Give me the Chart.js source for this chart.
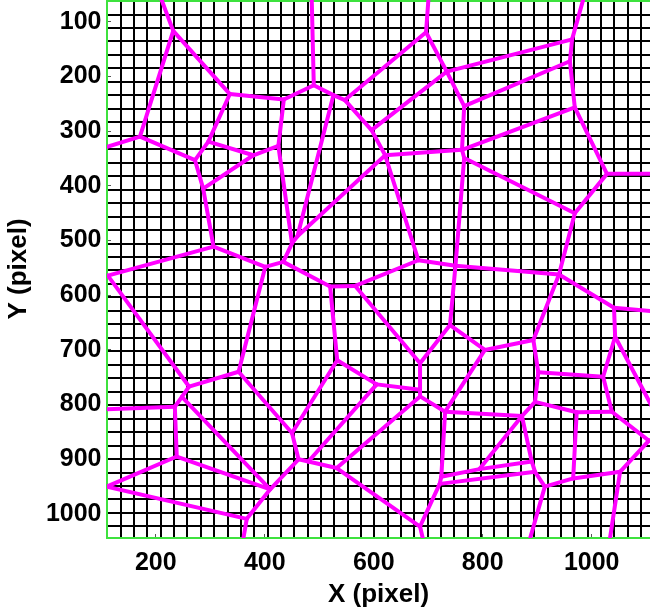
<!DOCTYPE html>
<html>
<head>
<meta charset="utf-8">
<script src="https://cdn.jsdelivr.net/npm/chart.js@4.4.0/dist/chart.umd.min.js"></script>
<style>
  html, body { margin: 0; padding: 0; background: #fff; }
</style>
</head>
<body>
<canvas id="myChart" width="650" height="613"></canvas>
<script>
'use strict';

// axis ticks and ranges (pixel units of the original image)
const xTickValues = [200, 400, 600, 800, 1000];
const yTickValues = [100, 200, 300, 400, 500, 600, 700, 800, 900, 1000];
const xRange = [110.5, 1107];
const yRange = [60, 1044];

// the square pixel grid behind the cells
const gridXStart = 135.8;
const gridXStep = 24.48;
const gridYStart = 61.9;
const gridYStep = 24.64;

// cell vertices (x, y)
const nodeX = [
  207, 232, 171, 100, 336, 435, 490, 486, 526, 547,      // 0-9
  696, 701, 734, 766, 596, 964, 987, 960, 969, 1028,     // 10-19
  1115, 969, 621, 762, 766, 460, 450, 425, 296.5, 379,   // 20-29
  272, 287, 306, 112, 401, 434, 520, 566, 682, 750,      // 30-39
  940, 1041, 1115, 1043, 1115, 1021, 902, 893, 896, 872, // 40-49
  972.5, 1037, 1105, 1115, 804, 740, 685, 685, 685, 605.5, // 50-59
  533, 450, 462, 480, 532, 731, 724, 721, 685, 692.5,    // 60-69
  794, 890, 896, 914, 884, 966, 1052, 1032, 110, 238.5,  // 70-79
  367, 359, 410, 235, 100, 261, 248, 352                 // 80-87
];
const nodeY = [
  50, 116.5, 310, 332, 232, 242, 216, 50, 234, 243,
  119, 50, 191, 254, 298, 132, 50, 172, 256.5, 378,
  378, 450, 344, 334, 349, 492, 505, 327, 319, 344,
  353, 405, 511, 564, 548, 539, 584, 583, 536, 546,
  562, 623, 629.5, 676, 812, 749, 741, 682, 795, 821,
  814, 813, 866, 863, 700, 654.5, 724.5, 773, 785, 763,
  719, 852, 900, 904, 916, 813, 932, 945, 1023, 1055,
  918, 904, 923, 950, 1055, 935, 923, 1055, 950, 895,
  1009, 1055, 955, 804, 809, 767, 786, 740
];

// cell edges as pairs of vertex indices
const edges = [
  [0, 1], [1, 2], [2, 3], [1, 4], [4, 5], [5, 6], [6, 7], [6, 8], [8, 9], [9, 10],
  [9, 14], [10, 11], [10, 12], [12, 13], [12, 15], [15, 16], [15, 17], [17, 18], [13, 17], [14, 12],
  [14, 22], [22, 23], [13, 23], [23, 24], [23, 18], [24, 21], [18, 19], [19, 20], [19, 21], [21, 40],
  [24, 39], [5, 27], [27, 26], [8, 25], [22, 25], [25, 26], [26, 35], [4, 28], [28, 30], [2, 30],
  [28, 29], [29, 27], [29, 31], [30, 31], [31, 32], [32, 33], [32, 34], [34, 35], [35, 36], [34, 87],
  [22, 38], [38, 37], [37, 36], [36, 60], [37, 56], [38, 39], [39, 40], [39, 55], [40, 41], [41, 42],
  [41, 43], [43, 44], [43, 45], [45, 51], [45, 46], [40, 47], [47, 46], [47, 54], [46, 48], [48, 49],
  [48, 50], [50, 51], [51, 52], [52, 53], [55, 56], [55, 54], [54, 65], [56, 57], [57, 58], [57, 59],
  [58, 65], [58, 64], [59, 60], [59, 63], [60, 61], [61, 87], [61, 62], [62, 63], [63, 64], [62, 82],
  [64, 68], [65, 49], [65, 66], [66, 67], [67, 68], [68, 69], [66, 70], [70, 71], [49, 70], [49, 71],
  [71, 72], [67, 72], [72, 73], [73, 74], [73, 75], [75, 50], [75, 76], [76, 77], [76, 52], [33, 85],
  [85, 87], [85, 86], [86, 83], [86, 82], [83, 84], [83, 79], [79, 78], [79, 82], [78, 80], [80, 82],
  [80, 81]
];

const labelFont = { family: '"Liberation Sans", Arial, sans-serif', size: 25, weight: 'bold' };
const titleFont = { family: '"Liberation Sans", Arial, sans-serif', size: 26, weight: 'bold' };
const green = '#3ee23e';

function gridValues(start, step, max) {
  const out = [];
  for (let v = start; v <= max; v += step) {
    out.push({ value: v });
  }
  return out;
}

const datasets = edges.map(function (e) {
  return {
    data: [{ x: nodeX[e[0]], y: nodeY[e[0]] }, { x: nodeX[e[1]], y: nodeY[e[1]] }],
    showLine: true,
    borderColor: '#ff00ff',
    borderWidth: 4,
    borderCapStyle: 'round',
    borderJoinStyle: 'round',
    pointRadius: 0,
    pointHoverRadius: 0,
    tension: 0,
    clip: 0
  };
});

const ctx = document.getElementById('myChart').getContext('2d');
new Chart(ctx, {
  type: 'scatter',
  data: { datasets: datasets },
  options: {
    responsive: false,
    animation: false,
    events: [],
    layout: { padding: 0 },
    plugins: { legend: { display: false }, tooltip: { enabled: false } },
    scales: {
      x: {
        type: 'linear',
        position: 'bottom',
        min: xRange[0],
        max: xRange[1],
        afterBuildTicks: function (s) { s.ticks = xTickValues.map(v => ({ value: v })); },
        afterFit: function (s) { s.height = 75; s.paddingLeft = 0; s.paddingRight = 0; },
        ticks: {
          autoSkip: false, maxRotation: 0, color: '#000', font: labelFont, padding: 14,
          callback: v => String(v)
        },
        grid: { drawOnChartArea: false, drawTicks: true, tickLength: -4, tickColor: '#555', lineWidth: 1 },
        border: { display: true, color: green, width: 2 },
        title: { display: true, text: 'X (pixel)', color: '#000', font: titleFont, padding: { top: 0, bottom: 3 } }
      },
      y: {
        type: 'linear',
        position: 'left',
        reverse: true,
        min: yRange[0],
        max: yRange[1],
        afterBuildTicks: function (s) { s.ticks = yTickValues.map(v => ({ value: v })); },
        afterFit: function (s) { s.width = 107; s.paddingTop = 0; s.paddingBottom = 0; },
        ticks: { color: '#000', font: labelFont, padding: 9.5, callback: v => String(v) },
        grid: { drawOnChartArea: false, drawTicks: true, tickLength: -4, tickColor: '#555', lineWidth: 1 },
        border: { display: true, color: green, width: 2 },
        title: { display: true, text: 'Y (pixel)', color: '#000', font: titleFont, padding: { top: 3, bottom: 0 } }
      },
      xg: {
        type: 'linear',
        axis: 'x',
        position: 'top',
        min: xRange[0],
        max: xRange[1],
        afterBuildTicks: function (s) { s.ticks = gridValues(gridXStart, gridXStep, xRange[1]); },
        afterFit: function (s) { s.height = 0; s.paddingLeft = 0; s.paddingRight = 0; },
        ticks: { display: false },
        grid: { color: '#000', lineWidth: 2, drawTicks: false },
        border: { display: true, color: green, width: 3 }
      },
      yg: {
        type: 'linear',
        axis: 'y',
        position: 'right',
        reverse: true,
        min: yRange[0],
        max: yRange[1],
        afterBuildTicks: function (s) { s.ticks = gridValues(gridYStart, gridYStep, yRange[1]); },
        afterFit: function (s) { s.width = 0; s.paddingTop = 0; s.paddingBottom = 0; },
        ticks: { display: false },
        grid: { color: '#000', lineWidth: 2, drawTicks: false },
        border: { display: false }
      }
    }
  }
});
</script>
</body>
</html>
